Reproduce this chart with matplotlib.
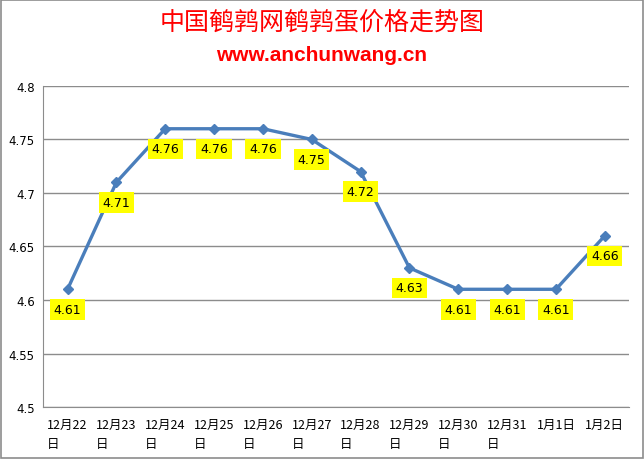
import matplotlib
matplotlib.use("Agg")
import matplotlib.pyplot as plt
from matplotlib.patches import Rectangle

plt.rcParams['font.family'] = ['Noto Sans CJK SC', 'DejaVu Sans']

dates = ["12月22\n日", "12月23\n日", "12月24\n日", "12月25\n日", "12月26\n日", "12月27\n日",
         "12月28\n日", "12月29\n日", "12月30\n日", "12月31\n日", "1月1日", "1月2日"]
prices = [4.61, 4.71, 4.76, 4.76, 4.76, 4.75, 4.72, 4.63, 4.61, 4.61, 4.61, 4.66]
yticks = [4.5, 4.55, 4.6, 4.65, 4.7, 4.75, 4.8]
ytick_labels = ["4.5", "4.55", "4.6", "4.65", "4.7", "4.75", "4.8"]

title = "中国鹌鹑网鹌鹑蛋价格走势图"
subtitle = "www.anchunwang.cn"

fig = plt.figure(figsize=(6.44, 4.6), dpi=100)
fig.patches.append(Rectangle((0.0015, 0.002), 0.997, 0.996, transform=fig.transFigure,
                             fill=False, edgecolor="#8c8c8c", linewidth=1.2))

ax = fig.add_axes([0.067, 0.113, 0.910, 0.698])
x = list(range(len(prices)))
ax.plot(x, prices, color="#4a7ebb", linewidth=2.4, marker="D", markersize=5.5, zorder=3)

for xi, v in zip(x, prices):
    ax.annotate(f"{v:.2f}", (xi, v), xytext=(0, -20), textcoords="offset pixels",
                ha="center", va="center", fontsize=9, family="DejaVu Sans",
                bbox=dict(boxstyle="square,pad=0.3", facecolor="#ffff00", edgecolor="none"),
                zorder=4)

ax.set_xlim(-0.5, len(prices) - 0.5)
ax.set_ylim(4.5, 4.8)
ax.set_yticks(yticks)
ax.set_yticklabels(ytick_labels, fontsize=8.5, family="DejaVu Sans")
ax.set_xticks(x)
ax.set_xticklabels(dates, fontsize=9, multialignment="left", linespacing=1.55)
ax.tick_params(axis="x", length=0, pad=8)
ax.tick_params(axis="y", length=0, pad=6)
ax.grid(axis="y", color="#8c8c8c", linewidth=1)
for s in ["top", "right"]:
    ax.spines[s].set_visible(False)
ax.spines["left"].set_color("#8c8c8c")
ax.spines["bottom"].set_color("#8c8c8c")
ax.set_axisbelow(True)

fig.text(0.5, 0.950, title, ha="center", va="center", color="#ff0000", fontsize=18)
fig.text(0.5, 0.880, subtitle, ha="center", va="center", color="#ff0000", fontsize=15,
         fontweight="bold", family="Liberation Sans")

fig.savefig("out.png", dpi=100)
